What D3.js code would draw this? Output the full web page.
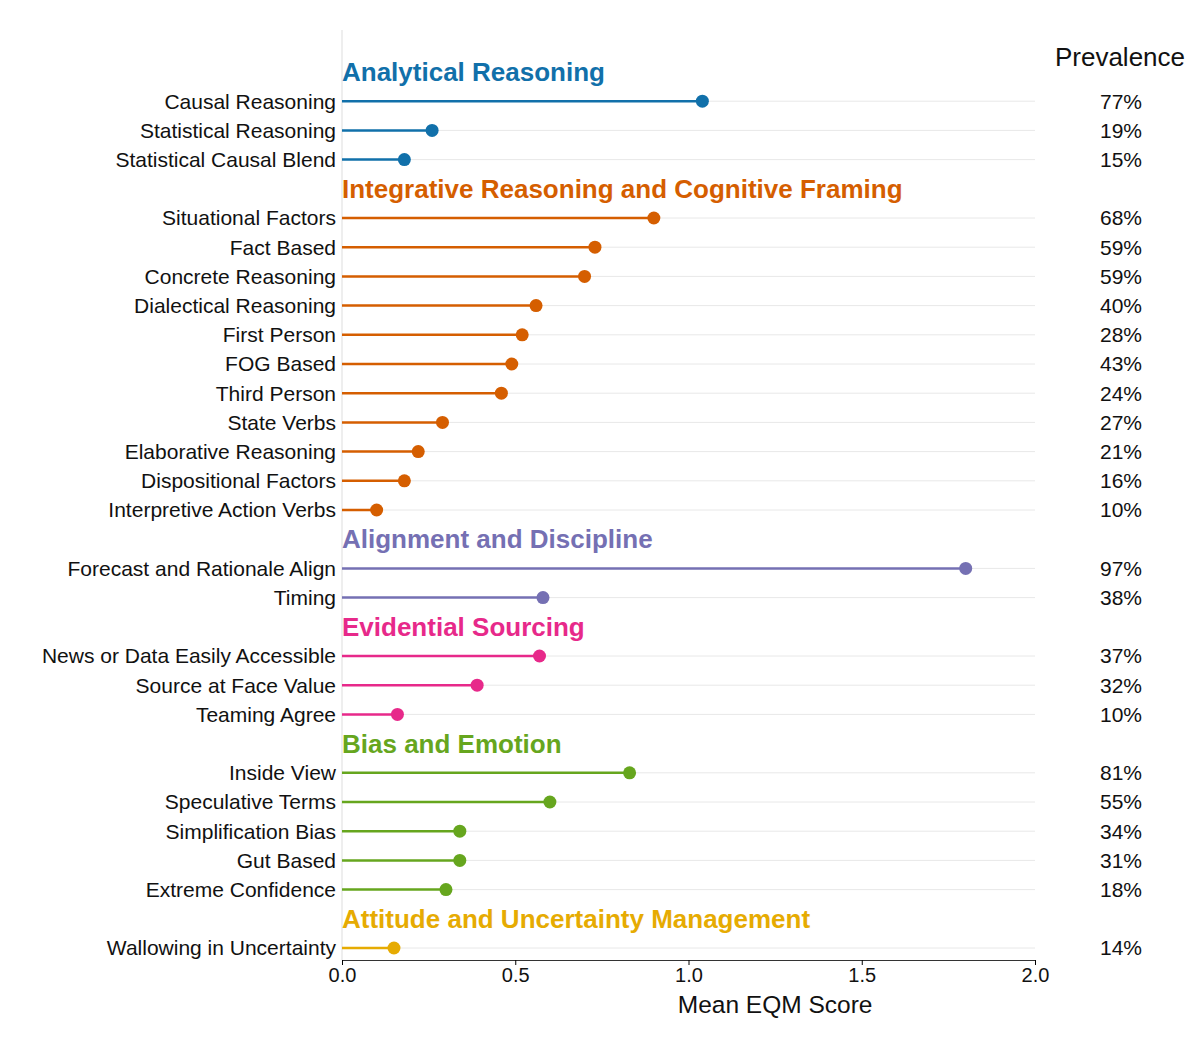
<!DOCTYPE html>
<html><head><meta charset="utf-8">
<script src="https://cdn.jsdelivr.net/npm/d3@7"></script>
<style>body{margin:0;background:#fff}text{font-family:"Liberation Sans",Arial,sans-serif}</style>
</head><body><svg id="c" width="1200" height="1044"></svg>
<script>
const groups=["Analytical Reasoning","Integrative Reasoning and Cognitive Framing","Alignment and Discipline","Evidential Sourcing","Bias and Emotion","Attitude and Uncertainty Management"];
const groupColors=["#1170aa","#d55e00","#7570b3","#e7298a","#66a61e","#e6ab02"];
const labels=[["Causal Reasoning","Statistical Reasoning","Statistical Causal Blend"],
["Situational Factors","Fact Based","Concrete Reasoning","Dialectical Reasoning","First Person","FOG Based","Third Person","State Verbs","Elaborative Reasoning","Dispositional Factors","Interpretive Action Verbs"],
["Forecast and Rationale Align","Timing"],
["News or Data Easily Accessible","Source at Face Value","Teaming Agree"],
["Inside View","Speculative Terms","Simplification Bias","Gut Based","Extreme Confidence"],
["Wallowing in Uncertainty"]];
const scores=[[1.04,0.26,0.18],[0.90,0.73,0.70,0.56,0.52,0.49,0.46,0.29,0.22,0.18,0.10],[1.80,0.58],[0.57,0.39,0.16],[0.83,0.60,0.34,0.34,0.30],[0.15]];
const prevalence=[[77,19,15],[68,59,59,40,28,43,24,27,21,16,10],[97,38],[37,32,10],[81,55,34,31,18],[14]];
const xTicks=[0,0.5,1.0,1.5,2.0];

const rows=[];
groups.forEach((g,gi)=>{rows.push({type:"h",g:gi,label:g});
 labels[gi].forEach((l,i)=>rows.push({type:"r",g:gi,label:l,v:scores[gi][i],p:prevalence[gi][i]}));});
const svg=d3.select("#c");
const x=d3.scaleLinear().domain([0,2]).range([342,1035]);
const y=d3.scaleLinear().domain([0,rows.length-1]).range([72,948]);
const data=rows.map((r,i)=>({...r,i}));
const items=data.filter(d=>d.type==="r");
svg.append("g").selectAll("line").data(items).join("line")
 .attr("x1",x(0)).attr("x2",x(2)).attr("y1",d=>y(d.i)).attr("y2",d=>y(d.i)).attr("stroke","#e8e8e8").attr("stroke-width",1);
svg.append("line").attr("x1",x(0)).attr("x2",x(0)).attr("y1",30).attr("y2",960).attr("stroke","#ddd");
svg.append("g").selectAll("line").data(items).join("line")
 .attr("x1",x(0)).attr("x2",d=>x(d.v)).attr("y1",d=>y(d.i)).attr("y2",d=>y(d.i)).attr("stroke",d=>groupColors[d.g]).attr("stroke-width",2.5);
svg.append("g").selectAll("circle").data(items).join("circle")
 .attr("cx",d=>x(d.v)).attr("cy",d=>y(d.i)).attr("r",6.5).attr("fill",d=>groupColors[d.g]);
svg.append("g").selectAll("text").data(items).join("text")
 .attr("x",336).attr("y",d=>y(d.i)).attr("dy","0.35em").attr("text-anchor","end").attr("font-size",21).attr("fill","#111").text(d=>d.label);
svg.append("g").selectAll("text").data(items).join("text")
 .attr("x",1142).attr("y",d=>y(d.i)).attr("dy","0.35em").attr("text-anchor","end").attr("font-size",21).attr("fill","#111").text(d=>d.p+"%");
svg.append("g").selectAll("text").data(data.filter(d=>d.type==="h")).join("text")
 .attr("x",342).attr("y",d=>y(d.i)).attr("dy","0.35em").attr("font-size",26).attr("font-weight","bold").attr("fill",d=>groupColors[d.g]).text(d=>d.label);
svg.append("text").attr("x",1120).attr("y",57).attr("dy","0.35em").attr("text-anchor","middle").attr("font-size",26).attr("fill","#111").text("Prevalence");
const ax=svg.append("g").attr("transform","translate(0,960)").call(d3.axisBottom(x).tickValues(xTicks).tickFormat(d3.format(".1f")).tickSize(5));
ax.select(".domain").attr("stroke","#333");
ax.selectAll("text").attr("font-size",20).attr("fill","#111").attr("font-family","Liberation Sans,Arial,sans-serif");
svg.append("text").attr("x",x(1.25)).attr("y",1004).attr("dy","0.35em").attr("text-anchor","middle").attr("font-size",24.5).attr("fill","#111").text("Mean EQM Score");
</script></body></html>
